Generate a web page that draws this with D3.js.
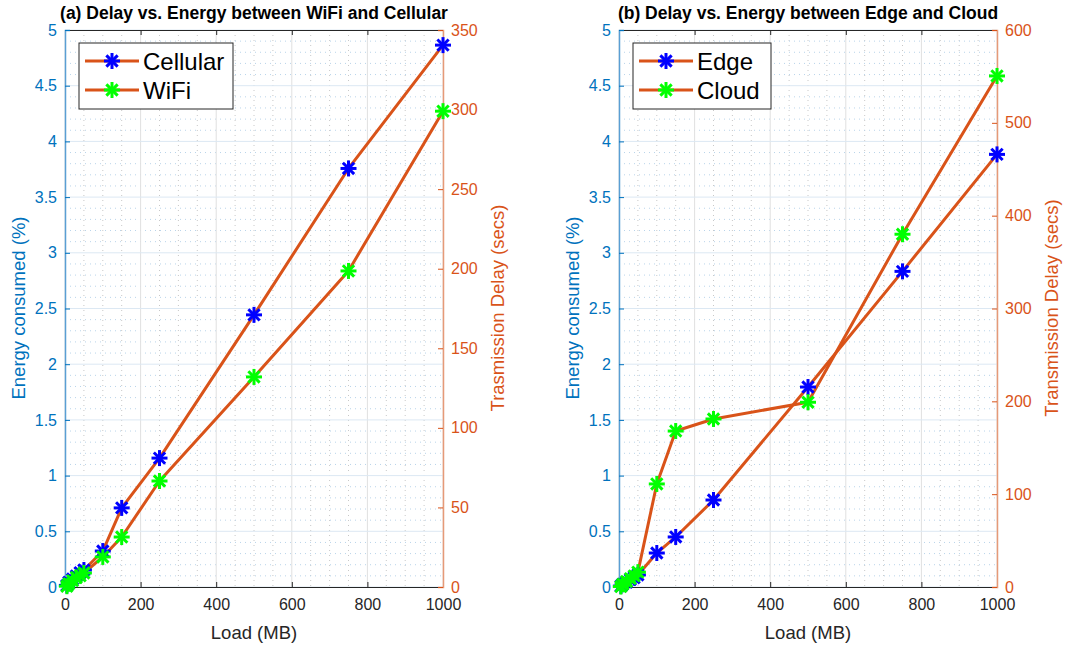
<!DOCTYPE html>
<html>
<head>
<meta charset="utf-8">
<script src="https://cdn.jsdelivr.net/npm/d3@7"></script>
<style>
  body { margin: 0; background: #fff; }
  svg { font-family: "Liberation Sans", Arial, sans-serif; }
</style>
</head>
<body>
<svg id="chart" width="1065" height="646"></svg>
<script>
// loads (MB) shared by both panels
const loads = [5, 10, 20, 30, 40, 50, 100, 150, 250, 500, 750, 1000];

// panel (a): transmission delay (secs)
const cellular = [1, 3, 5, 7, 9, 10.7, 22.6, 49.7, 81, 171, 263, 340.5];
const wifi = [0.5, 2, 4, 6, 7, 8.8, 18.9, 31.4, 66.6, 132, 198.6, 299];

// panel (b): transmission delay (secs)
const edge = [1, 3, 5, 8, 10, 13, 36.6, 53.9, 93.7, 215.4, 340, 466];
const cloud = [0.5, 3, 6, 9, 12, 16, 111, 168, 181, 199, 380, 550.5];

const xTicks = [0, 200, 400, 600, 800, 1000];
const energyTicks = [0, 0.5, 1, 1.5, 2, 2.5, 3, 3.5, 4, 4.5, 5];
const delayTicksA = [0, 50, 100, 150, 200, 250, 300, 350];
const delayTicksB = [0, 100, 200, 300, 400, 500, 600];

const blueAx = "#0072BD", orange = "#D95319";
const svg = d3.select("#chart");

function star(g, x, y, color) {
  const r = 8;
  const s = g.append("g").attr("transform", "translate(" + x + "," + y + ")");
  [0, 45, 90, 135].forEach(function (a) {
    const t = a * Math.PI / 180;
    s.append("line")
      .attr("x1", -r * Math.cos(t)).attr("y1", -r * Math.sin(t))
      .attr("x2", r * Math.cos(t)).attr("y2", r * Math.sin(t))
      .attr("stroke", color).attr("stroke-width", 3);
  });
}

function panel(p) {
  const g = svg.append("g");
  const x = d3.scaleLinear().domain([0, 1000]).range([p.left, p.right]);
  const yL = d3.scaleLinear().domain([0, 5]).range([587, 30]);
  const yR = d3.scaleLinear().domain([0, p.delayMax]).range([587, 30]);

  // minor grid
  d3.range(0, 1001, 50).filter(v => v % 200 !== 0).forEach(v => {
    g.append("line").attr("x1", x(v)).attr("x2", x(v)).attr("y1", 30).attr("y2", 587)
      .attr("stroke", "#c8c8c8").attr("stroke-dasharray", "1,4").attr("stroke-width", 1);
  });
  d3.range(0, 51).map(v => v / 10).filter(v => Math.round(v * 10) % 5 !== 0).forEach(v => {
    g.append("line").attr("x1", p.left).attr("x2", p.right).attr("y1", yL(v)).attr("y2", yL(v))
      .attr("stroke", "#b9d4ea").attr("stroke-dasharray", "1,4").attr("stroke-width", 1);
  });
  // major grid
  xTicks.forEach(v => {
    g.append("line").attr("x1", x(v)).attr("x2", x(v)).attr("y1", 30).attr("y2", 587)
      .attr("stroke", "#e0e0e0").attr("stroke-width", 1);
  });
  energyTicks.forEach(v => {
    g.append("line").attr("x1", p.left).attr("x2", p.right).attr("y1", yL(v)).attr("y2", yL(v))
      .attr("stroke", "#dce8f3").attr("stroke-width", 1);
  });

  // axes
  const xAxis = g.append("g").attr("transform", "translate(0,587)")
    .call(d3.axisBottom(x).tickValues(xTicks).tickSize(-5).tickPadding(12).tickFormat(d3.format("d")));
  const xTop = g.append("g").attr("transform", "translate(0,30)")
    .call(d3.axisTop(x).tickValues(xTicks).tickSize(-5).tickFormat(""));
  [xAxis, xTop].forEach(a => {
    a.select(".domain").attr("stroke", "#262626");
    a.selectAll("line").attr("stroke", "#262626");
  });
  xAxis.selectAll("text").attr("fill", "#262626").style("font-size", "16px");

  const leftAx = g.append("g").attr("transform", "translate(" + p.left + ",0)")
    .call(d3.axisLeft(yL).tickValues(energyTicks).tickSize(-5).tickPadding(8).tickFormat(d3.format("")));
  leftAx.select(".domain").attr("stroke", "#5a9fd4").attr("stroke-width", 1.5);
  leftAx.selectAll("line").attr("stroke", blueAx);
  leftAx.selectAll("text").attr("fill", blueAx).style("font-size", "16px");

  const rightAx = g.append("g").attr("transform", "translate(" + p.right + ",0)")
    .call(d3.axisRight(yR).tickValues(p.delayTicks).tickSize(-5).tickPadding(8));
  rightAx.select(".domain").attr("stroke", "#e69a78").attr("stroke-width", 1.5);
  rightAx.selectAll("line").attr("stroke", orange);
  rightAx.selectAll("text").attr("fill", orange).style("font-size", "16px");

  // labels
  g.append("text").attr("x", (p.left + p.right) / 2).attr("y", 19)
    .attr("text-anchor", "middle").style("font-size", "17.5px").style("font-weight", "bold")
    .attr("fill", "#000").text(p.title);
  g.append("text").attr("x", (p.left + p.right) / 2).attr("y", 639)
    .attr("text-anchor", "middle").style("font-size", "18.5px").attr("fill", "#262626").text("Load (MB)");
  g.append("text").attr("transform", "translate(" + (p.left - 40) + ",308) rotate(-90)")
    .attr("text-anchor", "middle").style("font-size", "18.5px").attr("fill", blueAx)
    .text("Energy consumed (%)");
  g.append("text").attr("transform", "translate(" + (p.right + 61) + ",308) rotate(-90)")
    .attr("text-anchor", "middle").style("font-size", "18.5px").attr("fill", orange)
    .text(p.rightLabel);

  // series
  const line = d3.line().x((d, i) => x(loads[i])).y(d => yR(d));
  p.series.forEach(s => {
    g.append("path").datum(s.values).attr("d", line)
      .attr("fill", "none").attr("stroke", orange).attr("stroke-width", 3)
      .attr("stroke-linejoin", "round");
  });
  p.series.forEach(s => {
    s.values.forEach((v, i) => star(g, x(loads[i]), yR(v), s.color));
  });

  // legend
  const lx = p.left + 14, ly = 43;
  g.append("rect").attr("x", lx).attr("y", ly).attr("width", p.legendW).attr("height", 66)
    .attr("fill", "#fff").attr("stroke", "#262626").attr("stroke-width", 1);
  p.series.forEach((s, i) => {
    const yy = ly + 18 + i * 29;
    g.append("line").attr("x1", lx + 6).attr("x2", lx + 60).attr("y1", yy).attr("y2", yy)
      .attr("stroke", orange).attr("stroke-width", 3);
    star(g, lx + 33, yy, s.color);
    g.append("text").attr("x", lx + 64).attr("y", yy + 8.5).style("font-size", "24px")
      .attr("fill", "#000").text(s.name);
  });
}

panel({
  left: 65, right: 443, delayMax: 350, delayTicks: delayTicksA,
  title: "(a) Delay vs. Energy between WiFi and Cellular",
  rightLabel: "Trasmission Delay (secs)", legendW: 154,
  series: [{ name: "Cellular", values: cellular, color: "#0000ff" },
           { name: "WiFi", values: wifi, color: "#00ff00" }]
});
panel({
  left: 619, right: 997, delayMax: 600, delayTicks: delayTicksB,
  title: "(b) Delay vs. Energy between Edge and Cloud",
  rightLabel: "Transmission Delay (secs)", legendW: 138,
  series: [{ name: "Edge", values: edge, color: "#0000ff" },
           { name: "Cloud", values: cloud, color: "#00ff00" }]
});
</script>
</body>
</html>
